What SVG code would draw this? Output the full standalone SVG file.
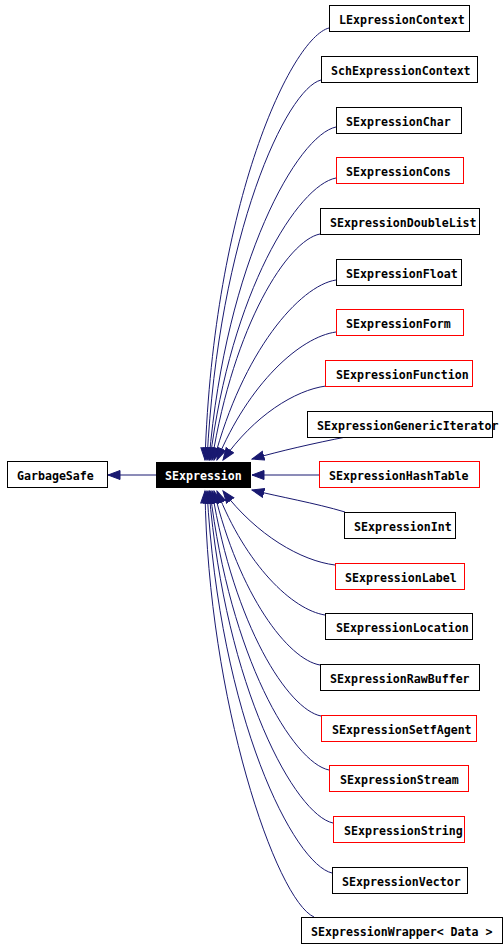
<svg xmlns="http://www.w3.org/2000/svg" width="504" height="949" viewBox="0 0 504 949">
<style>
.b{fill:#fff;stroke:#000;stroke-width:1}
.r{fill:#fff;stroke:#ff0000;stroke-width:1}
.t{font-family:"DejaVu Sans Mono","Liberation Mono",monospace;font-weight:bold;font-size:11.6px;fill:#000}
.e{fill:none;stroke:#191970;stroke-width:1;marker-end:url(#ah)}
</style>
<defs>
<marker id="ah" markerUnits="userSpaceOnUse" markerWidth="14" markerHeight="11" refX="12.5" refY="5" orient="auto" viewBox="0 0 14 11">
<path d="M0.5,0.5 L12.5,5 L0.5,9.5 z" fill="#191970" stroke="#191970"/>
</marker>
</defs>
<rect width="504" height="949" fill="#fff"/>
<g id="connectors">
<path class="e" d="M156,475 L108,475"/>
<path class="e" d="M329,28 C291.8,37.5 213.6,200.8 205,460"/>
<path class="e" d="M321,80 C286.8,88.7 218.7,232 207,460"/>
<path class="e" d="M336,127 C297.9,135 226,260.2 209,460"/>
<path class="e" d="M336,178 C298.2,185.2 231,290.8 210,460"/>
<path class="e" d="M320,234 C287.6,240.4 233.9,324.4 212,460"/>
<path class="e" d="M336,280 C299.4,285.7 242.4,352 214,460"/>
<path class="e" d="M336,332 C300.3,336.9 248.8,383.2 217,460"/>
<path class="e" d="M326,386 C295.1,390.1 254.1,415.6 223,460"/>
<path class="e" d="M346,437 C315,443 280,451 252,459"/>
<path class="e" d="M319,475 L252,475"/>
<path class="e" d="M345,512 C315,503 280,497 252,490"/>
<path class="e" d="M335,565 C301.4,560.9 256.8,535.4 223,491"/>
<path class="e" d="M325,615 C292.6,609.9 246,565.4 217,491"/>
<path class="e" d="M320,665 C288.2,659.6 239.1,595.4 214,491"/>
<path class="e" d="M321,716 C288.3,709.6 234.2,626 212,491"/>
<path class="e" d="M329,770 C293.3,762.8 230.1,658.4 210,491"/>
<path class="e" d="M333,823 C295.8,815 225.6,690.2 209,491"/>
<path class="e" d="M332,873 C294.5,864.3 219.7,720.2 207,491"/>
<path class="e" d="M314,917 C276,900 208,700 205,491"/>
</g>
<g id="GarbageSafe"><rect class="b" x="7.5" y="461.5" width="100" height="26"/><text class="t" x="17" y="480">GarbageSafe</text></g>
<g id="SExpression"><rect x="156" y="462" width="95" height="26" fill="#000"/><text class="t" x="165" y="480" style="fill:#fff">SExpression</text></g>
<g id="LExpressionContext"><rect class="b" x="329.5" y="5.5" width="140" height="26"/><text class="t" x="339" y="24">LExpressionContext</text></g>
<g id="SchExpressionContext"><rect class="b" x="321.5" y="56.5" width="156" height="26"/><text class="t" x="331" y="75">SchExpressionContext</text></g>
<g id="SExpressionChar"><rect class="b" x="336.5" y="107.5" width="125" height="26"/><text class="t" x="346" y="126">SExpressionChar</text></g>
<g id="SExpressionCons"><rect class="r" x="336.5" y="157.5" width="127" height="26"/><text class="t" x="346" y="176">SExpressionCons</text></g>
<g id="SExpressionDoubleList"><rect class="b" x="320.5" y="208.5" width="159" height="26"/><text class="t" x="330" y="227">SExpressionDoubleList</text></g>
<g id="SExpressionFloat"><rect class="b" x="336.5" y="259.5" width="125" height="26"/><text class="t" x="346" y="278">SExpressionFloat</text></g>
<g id="SExpressionForm"><rect class="r" x="336.5" y="309.5" width="127" height="26"/><text class="t" x="346" y="328">SExpressionForm</text></g>
<g id="SExpressionFunction"><rect class="r" x="325.5" y="360.5" width="147" height="26"/><text class="t" x="336" y="379">SExpressionFunction</text></g>
<g id="SExpressionGenericIterator"><rect class="b" x="307.5" y="411.5" width="185" height="26"/><text class="t" x="317" y="430">SExpressionGenericIterator</text></g>
<g id="SExpressionHashTable"><rect class="r" x="319.5" y="461.5" width="160" height="26"/><text class="t" x="329" y="480">SExpressionHashTable</text></g>
<g id="SExpressionInt"><rect class="b" x="344.5" y="512.5" width="111" height="26"/><text class="t" x="354" y="531">SExpressionInt</text></g>
<g id="SExpressionLabel"><rect class="r" x="335.5" y="563.5" width="129" height="26"/><text class="t" x="345" y="582">SExpressionLabel</text></g>
<g id="SExpressionLocation"><rect class="b" x="325.5" y="613.5" width="147" height="26"/><text class="t" x="336" y="632">SExpressionLocation</text></g>
<g id="SExpressionRawBuffer"><rect class="b" x="320.5" y="664.5" width="159" height="26"/><text class="t" x="330" y="683">SExpressionRawBuffer</text></g>
<g id="SExpressionSetfAgent"><rect class="r" x="321.5" y="715.5" width="155" height="26"/><text class="t" x="332" y="734">SExpressionSetfAgent</text></g>
<g id="SExpressionStream"><rect class="r" x="329.5" y="765.5" width="139" height="26"/><text class="t" x="340" y="784">SExpressionStream</text></g>
<g id="SExpressionString"><rect class="r" x="333.5" y="816.5" width="131" height="26"/><text class="t" x="344" y="835">SExpressionString</text></g>
<g id="SExpressionVector"><rect class="b" x="332.5" y="867.5" width="135" height="26"/><text class="t" x="342" y="886">SExpressionVector</text></g>
<g id="SExpressionWrapper"><rect class="b" x="301.5" y="917.5" width="201" height="26"/><text class="t" x="311" y="936">SExpressionWrapper&lt; Data &gt;</text></g>
</svg>
